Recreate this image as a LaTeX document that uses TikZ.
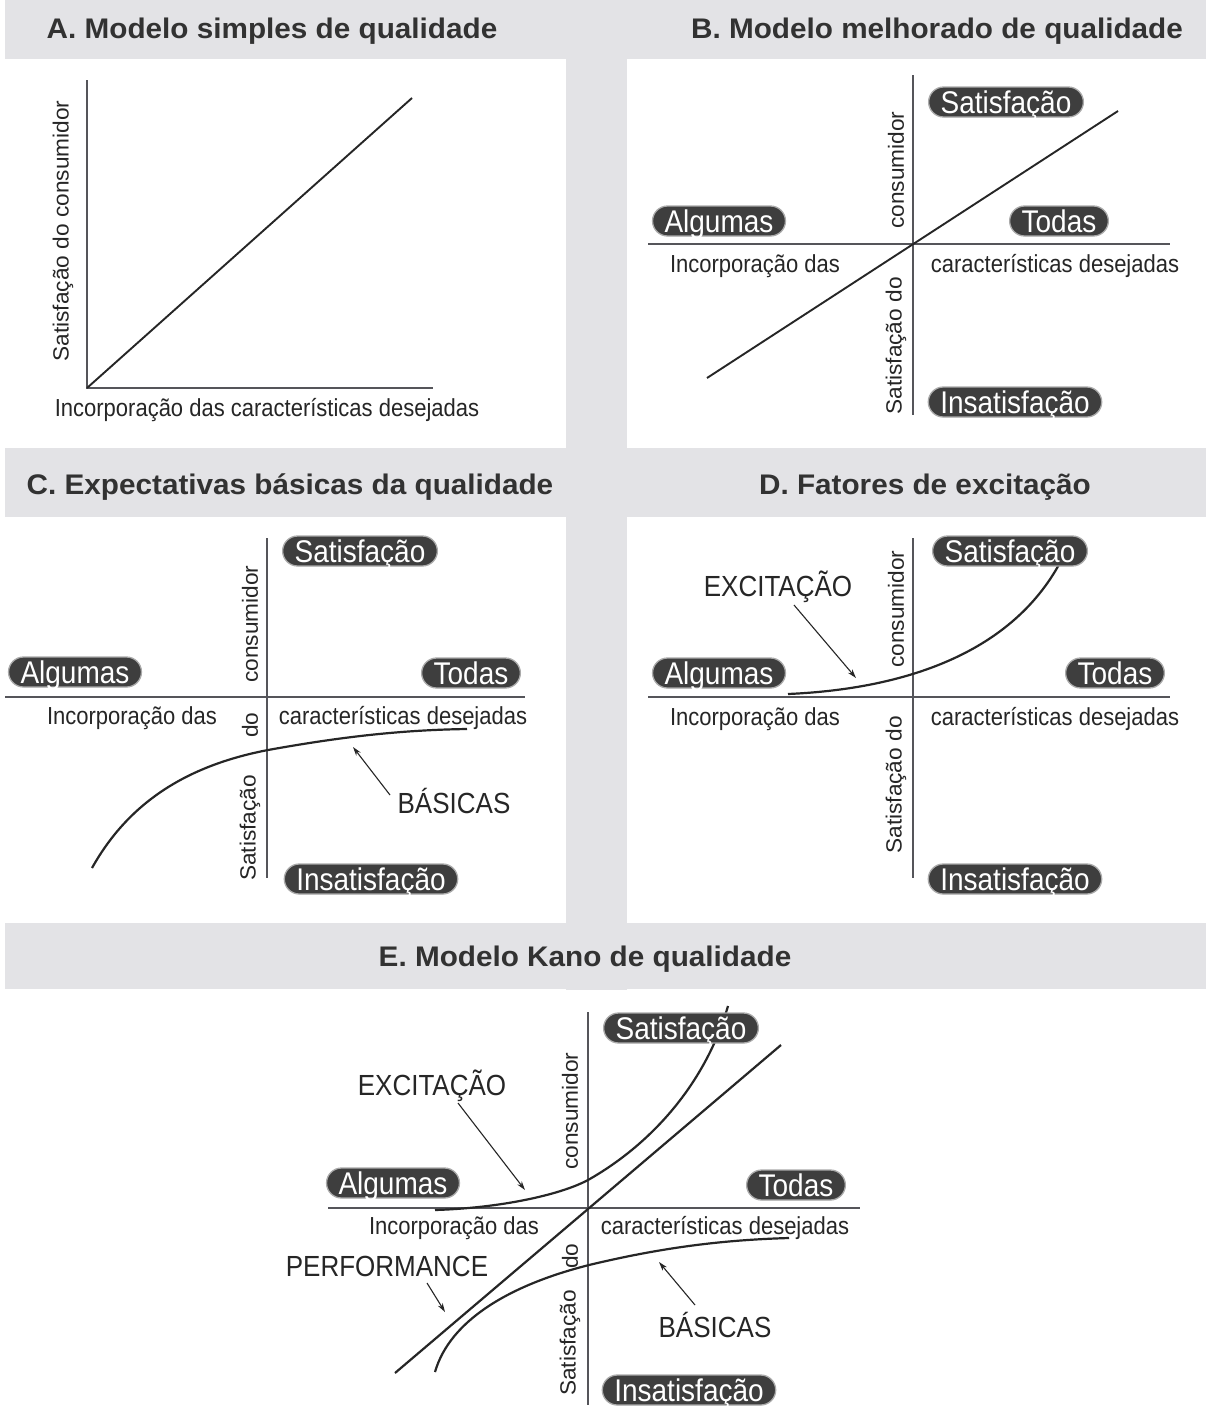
\documentclass[tikz,border=0pt]{standalone}
\usepackage{fontspec}
\setmainfont{Liberation Sans}
\usetikzlibrary{arrows.meta}
\definecolor{bandgray}{RGB}{227,227,230}
\definecolor{ink}{RGB}{38,38,38}
\definecolor{titlegray}{RGB}{50,50,50}
\definecolor{axisgray}{RGB}{85,85,90}
\definecolor{pilldark}{RGB}{62,62,62}
\definecolor{pillrim}{RGB}{170,170,170}
\newcommand{\vstr}[1]{\scalebox{1}[1.12]{#1}}
\newcommand{\hstr}[1]{\scalebox{1.03}[1]{#1}}
\newcommand{\ttl}[1]{\scalebox{1.1}[1.05]{\fontsize{27}{30}\selectfont\bfseries #1}}
\tikzset{
  titletext/.style={anchor=base, text=titlegray, inner sep=0pt},
  lbl/.style={font=\fontsize{22}{24}\selectfont, text=ink, inner sep=0pt, anchor=base},
  rlbl/.style={font=\fontsize{22}{24}\selectfont, text=ink, inner sep=0pt, rotate=90},
  tag/.style={font=\fontsize{26}{28}\selectfont, text=ink, inner sep=0pt},
  pill/.style={rectangle, rounded corners=15pt, fill=pilldark, draw=pillrim, line width=1.3pt,
    text=white, font=\fontsize{28}{30}\selectfont, minimum height=30pt, inner xsep=12pt,
    inner ysep=0pt, text height=22pt, text depth=0pt},
  axisline/.style={draw=axisgray, line width=1.5pt},
  curveline/.style={draw=ink, line width=2.2pt},
  pointer/.style={draw=ink, line width=1.1pt, -{Stealth[length=9pt,width=5.5pt]}}
}
\begin{document}
\begin{tikzpicture}[x=1pt,y=-1pt]
\useasboundingbox (0,0) rectangle (1206,1422);
\fill[white] (0,0) rectangle (1206,1422);
% gray bands
\fill[bandgray] (5,0) rectangle (1206,59);
\fill[bandgray] (566,59) rectangle (627,990);
\fill[bandgray] (5,448) rectangle (1206,517);
\fill[bandgray] (5,923) rectangle (1206,989);
% titles
\node[titletext] (tA) at (272,38) {\ttl{A. Modelo simples de qualidade}};
\node[titletext] (tB) at (937,38) {\ttl{B. Modelo melhorado de qualidade}};
\node[titletext] (tC) at (290,494) {\ttl{C. Expectativas básicas da qualidade}};
\node[titletext] (tD) at (925,494) {\ttl{D. Fatores de excitação}};
\node[titletext] (tE) at (585,966) {\ttl{E. Modelo Kano de qualidade}};

% ---------- Panel A ----------
\coordinate (aO) at (87,388);
\coordinate (aT) at (87,80);
\coordinate (aR) at (433,388);
\coordinate (aE) at (412,98);
\draw[axisline] (aT) -- (aO) -- (aR);
\draw[curveline, line width=1.9pt] (aO) -- (aE);
\node[rlbl] (aY) at (63,231) {\hstr{Satisfação do consumidor}};
\node[lbl] (aX) at (267,416) {\vstr{Incorporação das características desejadas}};

% ---------- Panel B ----------
\coordinate (bT) at (913,75);
\coordinate (bB) at (913,415);
\coordinate (bL) at (648,244);
\coordinate (bR) at (1170,244);
\coordinate (bS) at (707,378);
\coordinate (bE) at (1118,111);
\draw[axisline] (bT) -- (bB);
\draw[axisline] (bL) -- (bR);
\draw[curveline, line width=1.9pt] (bS) -- (bE);
\node[pill] (bSat) at (1006,102) {\vstr{Satisfação}};
\node[pill] (bAlg) at (719,221) {\vstr{Algumas}};
\node[pill] (bTod) at (1059,221) {\vstr{Todas}};
\node[pill] (bIns) at (1015,402) {\vstr{Insatisfação}};
\node[lbl] (bX1) at (755,272) {\vstr{Incorporação das}};
\node[lbl] (bX2) at (1055,272) {\vstr{características desejadas}};
\node[rlbl] (bY1) at (896,170) {\hstr{consumidor}};
\node[rlbl] (bY2) at (896,346) {\hstr{Satisfação do}};

% ---------- Panel C ----------
\coordinate (cT) at (267,538);
\coordinate (cB) at (267,878);
\coordinate (cL) at (5,697);
\coordinate (cR) at (525,697);
\draw[axisline] (cT) -- (cB);
\draw[axisline] (cL) -- (cR);
\coordinate (cC0) at (92,868);
\coordinate (cC1) at (268,750);
\coordinate (cC2) at (467,729);
\draw[curveline] (cC0) .. controls (130,800) and (190,765) .. (cC1)
  .. controls (340,737) and (400,730) .. (cC2);
\node[pill] (cSat) at (360,551) {\vstr{Satisfação}};
\node[pill] (cAlg) at (75,672) {\vstr{Algumas}};
\node[pill] (cTod) at (471,673) {\vstr{Todas}};
\node[pill] (cIns) at (371,879) {\vstr{Insatisfação}};
\node[lbl] (cX1) at (132,724) {\vstr{Incorporação das}};
\node[lbl] (cX2) at (403,724) {\vstr{características desejadas}};
\node[rlbl] (cY1) at (250,624) {\hstr{consumidor}};
\node[rlbl] (cY2) at (250,725) {\hstr{do}};
\node[rlbl] (cY3) at (250,828) {\hstr{Satisfação}};
\node[tag] (cBas) at (454,801) {\vstr{BÁSICAS}};
\coordinate (cAs) at (390,795);
\coordinate (cAe) at (353,747);
\draw[pointer] (cAs) -- (cAe);

% ---------- Panel D ----------
\coordinate (dT) at (913,538);
\coordinate (dB) at (913,878);
\coordinate (dL) at (648,697);
\coordinate (dR) at (1170,697);
\draw[axisline] (dT) -- (dB);
\draw[axisline] (dL) -- (dR);
\coordinate (dC0) at (788,694);
\coordinate (dC1) at (1064,555);
\draw[curveline] (dC0) .. controls (880,690) and (1010,665) .. (dC1);
\node[pill] (dSat) at (1010,551) {\vstr{Satisfação}};
\node[pill] (dAlg) at (719,673) {\vstr{Algumas}};
\node[pill] (dTod) at (1115,673) {\vstr{Todas}};
\node[pill] (dIns) at (1015,879) {\vstr{Insatisfação}};
\node[lbl] (dX1) at (755,725) {\vstr{Incorporação das}};
\node[lbl] (dX2) at (1055,725) {\vstr{características desejadas}};
\node[rlbl] (dY1) at (896,609) {\hstr{consumidor}};
\node[rlbl] (dY2) at (896,785) {\hstr{Satisfação do}};
\node[tag] (dExc) at (778,587) {\vstr{EXCITAÇÃO}};
\coordinate (dAs) at (794,605);
\coordinate (dAe) at (856,678);
\draw[pointer] (dAs) -- (dAe);

% ---------- Panel E ----------
\coordinate (eT) at (588,1012);
\coordinate (eB) at (588,1405);
\coordinate (eL) at (328,1208);
\coordinate (eR) at (860,1208);
\draw[axisline] (eT) -- (eB);
\draw[axisline] (eL) -- (eR);
\coordinate (eP0) at (395,1373);
\coordinate (eP1) at (781,1045);
\draw[curveline] (eP0) -- (eP1);
\coordinate (eX0) at (435,1210);
\coordinate (eX1) at (588,1180);
\coordinate (eX2) at (728,1006);
\draw[curveline] (eX0) .. controls (500,1208) and (560,1195) .. (eX1)
  .. controls (650,1145) and (705,1085) .. (eX2);
\coordinate (eB0) at (435,1372);
\coordinate (eB1) at (589,1265);
\coordinate (eB2) at (789,1238);
\draw[curveline] (eB0) .. controls (450,1320) and (510,1285) .. (eB1)
  .. controls (660,1248) and (720,1240) .. (eB2);
\node[pill] (eSat) at (681,1028) {\vstr{Satisfação}};
\node[pill] (eAlg) at (393,1183) {\vstr{Algumas}};
\node[pill] (eTod) at (796,1185) {\vstr{Todas}};
\node[pill] (eIns) at (689,1390) {\vstr{Insatisfação}};
\node[lbl] (eX1l) at (454,1234) {\vstr{Incorporação das}};
\node[lbl] (eX2l) at (725,1234) {\vstr{características desejadas}};
\node[rlbl] (eY1) at (570,1111) {\hstr{consumidor}};
\node[rlbl] (eY2) at (570,1256) {\hstr{do}};
\node[rlbl] (eY3) at (570,1343) {\hstr{Satisfação}};
\node[tag] (eExc) at (432,1086) {\vstr{EXCITAÇÃO}};
\node[tag] (ePerf) at (387,1266) {\vstr{PERFORMANCE}};
\node[tag] (eBas) at (715,1325) {\vstr{BÁSICAS}};
\coordinate (eA1s) at (458,1103);
\coordinate (eA1e) at (525,1190);
\coordinate (eA2s) at (427,1283);
\coordinate (eA2e) at (445,1312);
\coordinate (eA3s) at (695,1305);
\coordinate (eA3e) at (659,1262);
\draw[pointer] (eA1s) -- (eA1e);
\draw[pointer] (eA2s) -- (eA2e);
\draw[pointer] (eA3s) -- (eA3e);
\end{tikzpicture}
\end{document}
